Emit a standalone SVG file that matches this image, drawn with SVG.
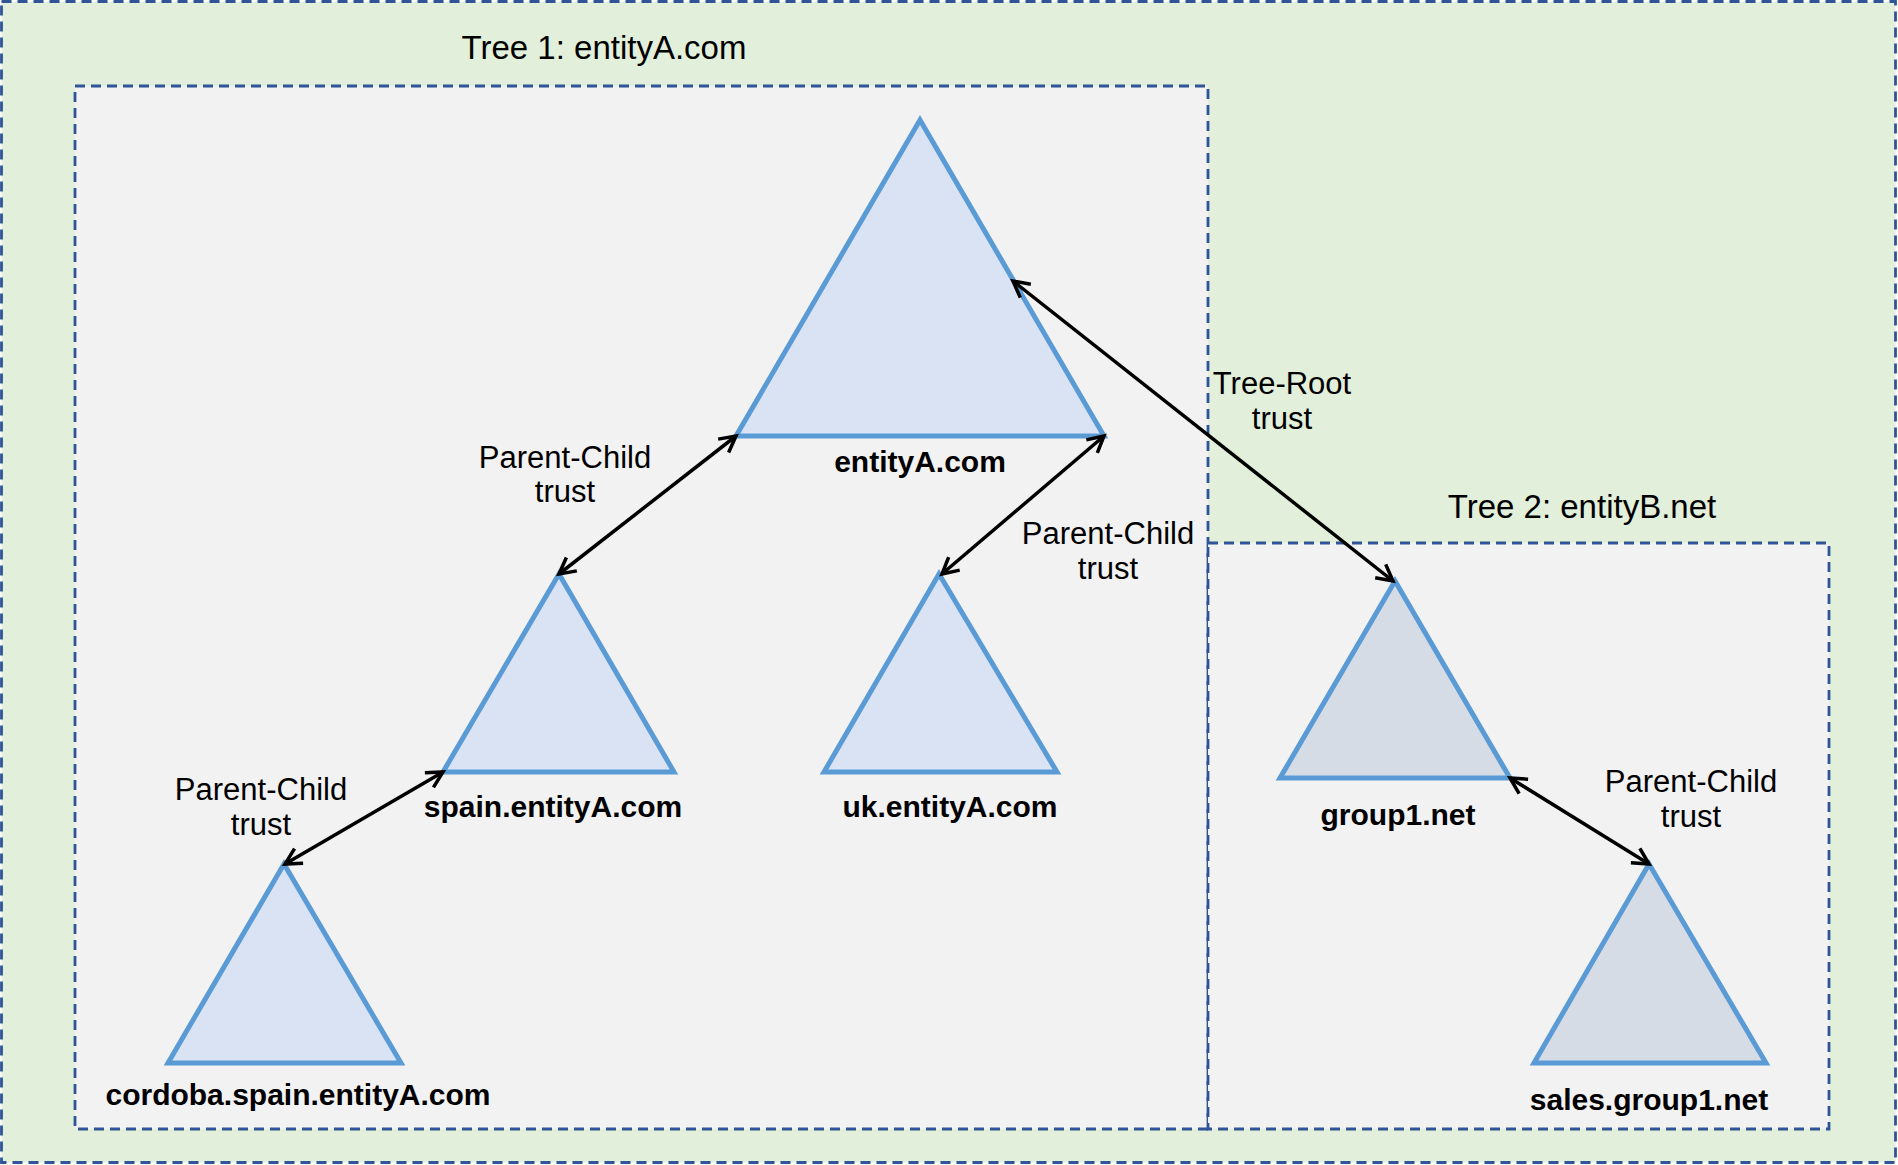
<svg xmlns="http://www.w3.org/2000/svg" width="1898" height="1165" viewBox="0 0 1898 1165">
<style>
.box{stroke:#2f5597;stroke-width:2.8;stroke-dasharray:10,6}
.tri{fill:#dae3f3;stroke:#5b9bd5;stroke-width:5;stroke-linejoin:miter}
.tri2{fill:#d6dce5;stroke:#5b9bd5;stroke-width:5;stroke-linejoin:miter}
.name{font-family:"Liberation Sans",Arial,sans-serif;font-weight:bold;font-size:30px;fill:#000;text-anchor:middle}
.lbl{font-family:"Liberation Sans",Arial,sans-serif;font-size:31px;fill:#000;text-anchor:middle}
.title{font-family:"Liberation Sans",Arial,sans-serif;font-size:33px;fill:#000;text-anchor:middle}
.con{stroke:#000;stroke-width:3.5;fill:none;marker-start:url(#ah);marker-end:url(#ah)}
</style>
<defs>
<marker id="ah" viewBox="0 0 24 24" refX="20" refY="12" markerWidth="24" markerHeight="24" markerUnits="userSpaceOnUse" orient="auto-start-reverse">
<path d="M4,3.5 L20,12 L4,20.5" fill="none" stroke="#000" stroke-width="3.5"/>
</marker>
</defs>
<g id="forest">
<rect class="box" x="1.5" y="1.5" width="1894" height="1161" fill="#e2efda"/>
</g>
<g id="tree1">
<rect class="box" x="75" y="86" width="1133" height="1043" fill="#f2f2f2"/>
<text class="title" x="604" y="59">Tree 1: entityA.com</text>
</g>
<g id="tree2">
<rect class="box" x="1208" y="543" width="621" height="586" fill="#f2f2f2"/>
<text class="title" x="1582" y="518">Tree 2: entityB.net</text>
</g>
<g id="entityA">
<polygon class="tri" points="920,120 736,436 1104,436"/>
<text class="name" x="920" y="472">entityA.com</text>
</g>
<g id="spain">
<polygon class="tri" points="559,574 443,772 674,772"/>
<text class="name" x="553" y="817">spain.entityA.com</text>
</g>
<g id="uk">
<polygon class="tri" points="939,574 824,772 1057,772"/>
<text class="name" x="950" y="817">uk.entityA.com</text>
</g>
<g id="cordoba">
<polygon class="tri" points="284,864 168,1063 401,1063"/>
<text class="name" x="298" y="1105">cordoba.spain.entityA.com</text>
</g>
<g id="group1">
<polygon class="tri2" points="1395,581 1280,778 1510,778"/>
<text class="name" x="1398" y="825">group1.net</text>
</g>
<g id="sales">
<polygon class="tri2" points="1649,864 1534,1063 1766,1063"/>
<text class="name" x="1649" y="1110">sales.group1.net</text>
</g>
<g id="connectors">
<line class="con" x1="736" y1="436" x2="559" y2="574"/>
<line class="con" x1="1104" y1="436" x2="942" y2="574"/>
<line class="con" x1="1013" y1="281" x2="1393" y2="581"/>
<line class="con" x1="443" y1="772" x2="285" y2="864"/>
<line class="con" x1="1510" y1="778" x2="1649" y2="864"/>
</g>
<g id="labels">
<text class="lbl" x="565" y="468">Parent-Child</text>
<text class="lbl" x="565" y="502">trust</text>
<text class="lbl" x="1108" y="544">Parent-Child</text>
<text class="lbl" x="1108" y="579">trust</text>
<text class="lbl" x="1282" y="394">Tree-Root</text>
<text class="lbl" x="1282" y="429">trust</text>
<text class="lbl" x="261" y="800">Parent-Child</text>
<text class="lbl" x="261" y="835">trust</text>
<text class="lbl" x="1691" y="792">Parent-Child</text>
<text class="lbl" x="1691" y="827">trust</text>
</g>
</svg>
